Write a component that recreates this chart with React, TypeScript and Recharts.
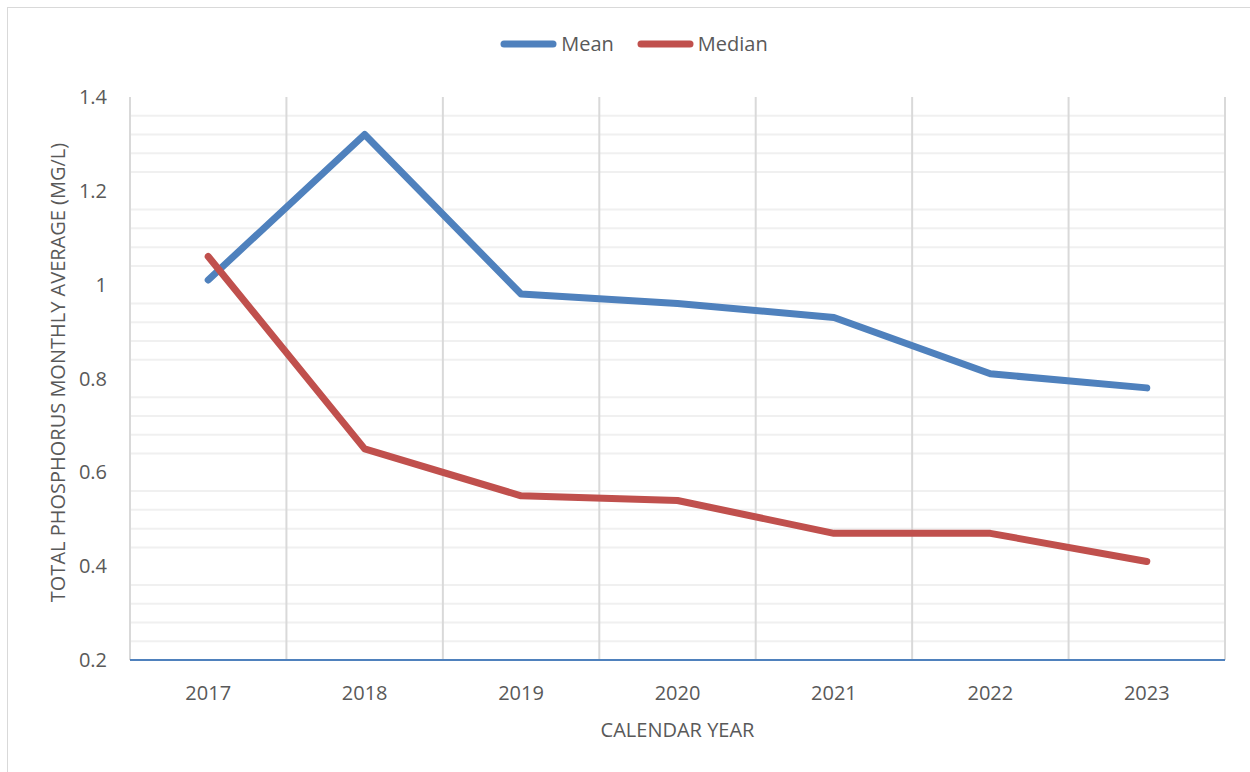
import React from 'react';
import { ComposedChart, Line, XAxis, YAxis, ReferenceLine } from 'recharts';

const years = ['2017', '2018', '2019', '2020', '2021', '2022', '2023'];
const meanValues = [1.01, 1.32, 0.98, 0.96, 0.93, 0.81, 0.78];
const medianValues = [1.06, 0.65, 0.55, 0.54, 0.47, 0.47, 0.41];
const yTicks = [0.2, 0.4, 0.6, 0.8, 1, 1.2, 1.4];
const minorGridValues = [
  0.24, 0.28, 0.32, 0.36, 0.44, 0.48, 0.52, 0.56, 0.64, 0.68, 0.72, 0.76,
  0.84, 0.88, 0.92, 0.96, 1.04, 1.08, 1.12, 1.16, 1.24, 1.28, 1.32, 1.36,
];

const series = [
  { key: 'mean', name: 'Mean', color: '#4F81BD' },
  { key: 'median', name: 'Median', color: '#C0504D' },
];

// category i sits in the middle of its slot [i, i+1]
const data = years.map((year, i) => ({
  year,
  pos: i + 0.5,
  mean: meanValues[i],
  median: medianValues[i],
}));
const xTicks = data.map((d) => d.pos);
const categoryBoundaries = [0, ...years.map((_, i) => i + 1)];

const FONT = "'Open Sans', sans-serif";
const TEXT = '#595959';

const XTitle = (props: any) => {
  const vb = props.viewBox;
  return (
    <text
      x={vb.x + vb.width / 2}
      y={vb.y + 77}
      textAnchor="middle"
      fill={TEXT}
      fontSize={20}
      fontFamily={FONT}
    >
      CALENDAR YEAR
    </text>
  );
};

const YTitle = (props: any) => {
  const vb = props.viewBox;
  const cx = vb.x + 25;
  const cy = vb.y + vb.height / 2 - 6;
  return (
    <text
      x={cx}
      y={cy}
      transform={`rotate(-90, ${cx}, ${cy})`}
      textAnchor="middle"
      fill={TEXT}
      fontSize={20}
      fontFamily={FONT}
    >
      TOTAL PHOSPHORUS MONTHLY AVERAGE (MG/L)
    </text>
  );
};

export default function App() {
  return (
    <div style={{ position: 'absolute', left: 0, top: 0, width: 1250, height: 772, background: '#fff' }}>
      <div
        style={{
          position: 'absolute',
          left: 7,
          top: 7,
          width: 1243,
          height: 765,
          borderTop: '1px solid #d9d9d9',
          borderLeft: '1px solid #d9d9d9',
          boxSizing: 'border-box',
        }}
      />
      <div style={{ position: 'absolute', left: 0, top: 0 }}>
        <ComposedChart
          width={1250}
          height={772}
          data={data}
          margin={{ top: 97, right: 25, bottom: 52, left: 40 }}
        >
          <XAxis
            dataKey="pos"
            type="number"
            domain={[0, years.length]}
            ticks={xTicks}
            tickFormatter={(v: number) => years[Math.floor(v)]}
            allowDataOverflow
            height={60}
            tickLine={false}
            tickSize={0}
            tickMargin={26}
            axisLine={{ stroke: '#4F81BD', strokeWidth: 2 }}
            tick={{ fill: TEXT, fontSize: 20, fontFamily: FONT }}
            interval={0}
            label={<XTitle />}
          />
          <YAxis
            domain={[0.2, 1.4]}
            ticks={yTicks}
            width={90}
            axisLine={false}
            tickLine={false}
            tickSize={0}
            tickMargin={23}
            tick={{ fill: TEXT, fontSize: 20, fontFamily: FONT }}
            allowDataOverflow
            label={<YTitle />}
          />
          {minorGridValues.map((v) => (
            <ReferenceLine key={'h' + v} y={v} stroke="#f0f0f0" strokeWidth={2} />
          ))}
          {categoryBoundaries.map((v) => (
            <ReferenceLine key={'v' + v} x={v} stroke="#d9d9d9" strokeWidth={2} />
          ))}
          {series.map((s) => (
            <Line
              key={s.key}
              dataKey={s.key}
              name={s.name}
              type="linear"
              stroke={s.color}
              strokeWidth={7}
              strokeLinecap="round"
              strokeLinejoin="round"
              dot={false}
              activeDot={false}
              isAnimationActive={false}
            />
          ))}
        </ComposedChart>
      </div>
      <div
        style={{
          position: 'absolute',
          left: 0,
          top: 34,
          width: 1268,
          height: 20,
          display: 'flex',
          justifyContent: 'center',
          alignItems: 'center',
          gap: 23,
          fontFamily: FONT,
          fontSize: 20,
          lineHeight: '20px',
          color: TEXT,
        }}
      >
        {series.map((s) => (
          <div key={s.key} style={{ display: 'flex', alignItems: 'center' }}>
            <svg width={57} height={10} style={{ display: 'block', marginRight: 4 }}>
              <line x1={4} y1={5} x2={53} y2={5} stroke={s.color} strokeWidth={7} strokeLinecap="round" />
            </svg>
            <span>{s.name}</span>
          </div>
        ))}
      </div>
    </div>
  );
}
